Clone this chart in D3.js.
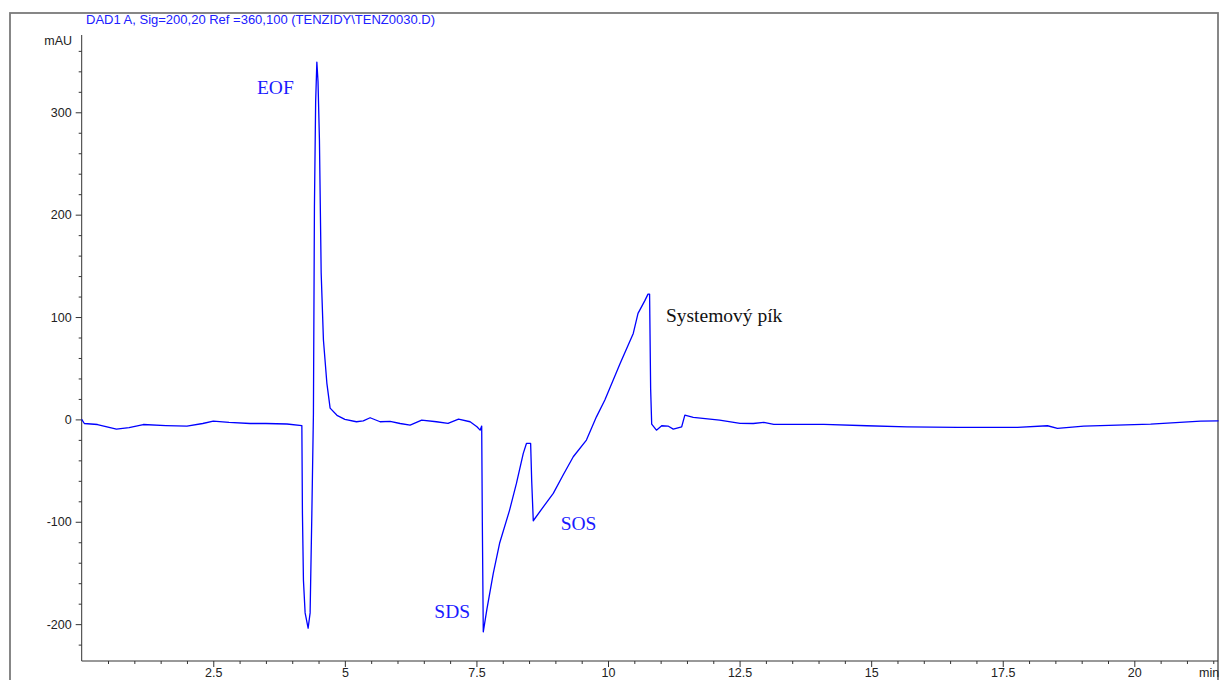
<!DOCTYPE html>
<html>
<head>
<meta charset="utf-8">
<script src="https://cdn.jsdelivr.net/npm/d3@7"></script>
<style>
  body { margin: 0; background: #fff; }
  svg { display: block; }
</style>
</head>
<body>
<div id="chart"></div>
<script>
// retention time (min) and absorbance (mAU)
var times = [0, 0.05, 0.3, 0.66, 0.9, 1.17, 1.6, 2.0, 2.3, 2.5, 2.8, 3.2, 3.5, 3.9, 4.183,
    4.194, 4.213, 4.245, 4.302, 4.34, 4.373, 4.403, 4.422, 4.445, 4.468, 4.49, 4.517, 4.55, 4.593, 4.658, 4.72, 4.85,
    5.0, 5.22, 5.35, 5.48, 5.67, 5.86, 6.05, 6.24, 6.46, 6.74, 6.96, 7.16, 7.38, 7.51, 7.57, 7.6,
    7.612, 7.63, 7.7, 7.82, 7.94, 8.13, 8.26, 8.39, 8.45, 8.53, 8.55, 8.58, 8.75, 8.96, 9.15, 9.34,
    9.59, 9.78, 9.94, 10.23, 10.48, 10.57, 10.7, 10.76, 10.79, 10.81, 10.83, 10.92, 11.02, 11.14,
    11.24, 11.4, 11.46, 11.62, 12.12, 12.51, 12.76, 12.96, 13.15, 14.1, 14.92, 15.68, 16.64, 17.78,
    18.35, 18.54, 19.04, 20.31, 21.26, 21.6];
var mau = [0, -4, -5, -9.5, -8, -5, -6, -6.5, -4, -1.7, -3, -4, -4, -4.5, -6,
    -91.6, -157, -189, -204, -189, -91.6, 6, 208, 310, 349, 330, 273, 143, 77.5, 35.5, 11, 4,
    0, -2.3, -1.5, 1.6, -2.3, -2, -4, -5.6, -0.7, -2.3, -3.9, 0.3, -2.3, -7.2, -10.5, -6.5,
    -100, -207.5, -185, -150.5, -121, -88.6, -62.5, -33.2, -23.5, -23.5, -60, -99, -87, -72.3, -54, -36.5,
    -20.2, 2.5, 18.9, 54.7, 84, 103.6, 116, 122.4, 122.4, 30, -4.6, -10.5, -6.2, -6.5,
    -9.5, -7.2, 4.2, 2, -0.7, -3.9, -4, -2.9, -4.9, -4.9, -6.2, -7.2, -7.8, -7.8,
    -6.2, -8.8, -6.5, -4.6, -1.7, -1.4];

var yMajor = [-200, -100, 0, 100, 200, 300];
var xMajor = [2.5, 5, 7.5, 10, 12.5, 15, 17.5, 20];

var peakNames = ["EOF", "SDS", "SOS", "Systemový pík"];
var peakAt = [[3.33, 318], [6.7, -194], [9.1, -108], [11.1, 95]];

var title = "DAD1 A, Sig=200,20 Ref =360,100 (TENZIDY\\TENZ0030.D)";

var width = 1220, height = 680;

var svg = d3.select("#chart")
    .append("svg")
    .attr("width", width)
    .attr("height", height);

var x = d3.scaleLinear().domain([0, 21.59]).range([81.7, 1218]);
var y = d3.scaleLinear().domain([-236, 375.5]).range([661, 35]);

// outer frame
svg.append("rect")
    .attr("x", 10).attr("y", 13)
    .attr("width", 1208).attr("height", 700)
    .attr("fill", "none")
    .attr("stroke", "#7a7a7a")
    .attr("stroke-width", 1.8);

svg.append("text")
    .attr("x", 86).attr("y", 24)
    .attr("font-family", "Liberation Sans, Arial, sans-serif")
    .attr("font-size", "13px")
    .attr("fill", "#2020ff")
    .text(title);

svg.append("text")
    .attr("x", 72).attr("y", 45)
    .attr("text-anchor", "end")
    .attr("font-family", "Liberation Sans, Arial, sans-serif")
    .attr("font-size", "12.5px")
    .attr("fill", "#222")
    .text("mAU");

// y axis: minor every 20, labelled every 100
var yMinor = d3.range(-220, 361, 20).filter(function (v) { return yMajor.indexOf(v) < 0; });

svg.append("g")
    .attr("transform", "translate(" + x(0) + ",0)")
    .call(d3.axisLeft(y).tickValues(yMinor).tickSize(3).tickFormat(""))
    .call(function (g) { g.select(".domain").remove(); });

var yAxis = svg.append("g")
    .attr("transform", "translate(" + x(0) + ",0)")
    .call(d3.axisLeft(y).tickValues(yMajor).tickSize(6).tickPadding(4).tickFormat(function (d) { return String(d); }));
yAxis.select(".domain").attr("d", "M0," + y.range()[0] + "V" + y.range()[1]);

// x axis: minor every 0.5 min
var xMinor = d3.range(0.5, 21.6, 0.5).filter(function (t) { return xMajor.indexOf(t) < 0; });

svg.append("g")
    .attr("transform", "translate(0," + y(-236) + ")")
    .call(d3.axisBottom(x).tickValues(xMinor).tickSize(3).tickFormat(""))
    .call(function (g) { g.select(".domain").remove(); });

var xAxis = svg.append("g")
    .attr("transform", "translate(0," + y(-236) + ")")
    .call(d3.axisBottom(x).tickValues(xMajor).tickSize(6).tickPadding(1).tickFormat(function (d) { return String(d); }));
xAxis.select(".domain").attr("d", "M" + x.range()[0] + ",0H" + x.range()[1]);

svg.selectAll(".tick text")
    .attr("font-family", "Liberation Sans, Arial, sans-serif")
    .attr("font-size", "12.5px")
    .attr("fill", "#222");
svg.selectAll(".domain, .tick line").attr("stroke", "#333");

svg.append("text")
    .attr("x", 1199).attr("y", 677)
    .attr("font-family", "Liberation Sans, Arial, sans-serif")
    .attr("font-size", "12.5px")
    .attr("fill", "#222")
    .text("min");

// signal trace
var line = d3.line()
    .x(function (d, i) { return x(times[i]); })
    .y(function (d) { return y(d); });

svg.append("path")
    .datum(mau)
    .attr("d", line)
    .attr("fill", "none")
    .attr("stroke", "#0000ff")
    .attr("stroke-width", 1.3)
    .attr("stroke-linejoin", "round");

// peak labels
svg.selectAll(".peak")
    .data(peakNames)
    .enter().append("text")
    .attr("class", "peak")
    .attr("x", function (d, i) { return x(peakAt[i][0]); })
    .attr("y", function (d, i) { return y(peakAt[i][1]); })
    .attr("font-family", "Liberation Serif, Times New Roman, serif")
    .attr("font-size", "19.5px")
    .attr("fill", function (d, i) { return i === 3 ? "#111" : "#1a1aff"; })
    .text(function (d) { return d; });
</script>
</body>
</html>
